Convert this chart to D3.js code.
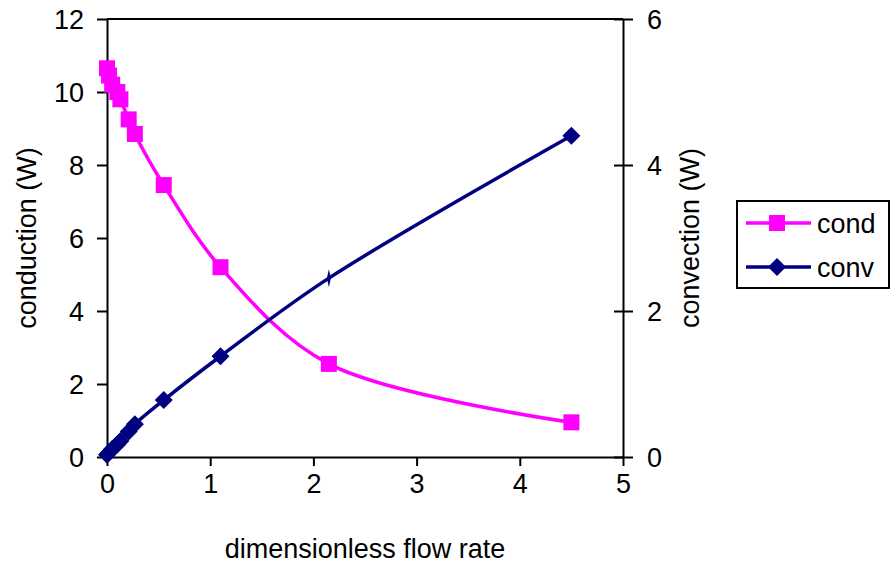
<!DOCTYPE html>
<html>
<head>
<meta charset="utf-8">
<script src="https://cdn.jsdelivr.net/npm/d3@7"></script>
<style>
  html, body { margin: 0; padding: 0; background: #fff; }
  svg text { font-family: "Liberation Sans", Arial, sans-serif; fill: #000; }
</style>
</head>
<body>
<svg id="chart" width="891" height="567"></svg>
<script>
// ---- data ----
const flowRate   = [0, 0.02, 0.05, 0.1, 0.13, 0.21, 0.27, 0.55, 1.1, 2.15, 4.5];
const conduction = [10.65, 10.45, 10.2, 10.0, 9.8, 9.25, 8.85, 7.45, 5.2, 2.55, 0.95];
const convection = [0.03, 0.06, 0.11, 0.17, 0.22, 0.35, 0.45, 0.78, 1.38, 2.45, 4.4];
const xTicks  = [0, 1, 2, 3, 4, 5];
const yLTicks = [0, 2, 4, 6, 8, 10, 12];
const yRTicks = [0, 2, 4, 6];
const seriesNames = ["cond", "conv"];
const xTitle = "dimensionless flow rate";
const yLTitle = "conduction (W)";
const yRTitle = "convection (W)";

// ---- layout ----
const L = 107, R = 623, T = 19, B = 457;
const FS = 27;
const magenta = "#FF00FF", navy = "#000080";

const svg = d3.select("#chart");
const x  = d3.scaleLinear().domain([0, 5]).range([L, R]);
const yL = d3.scaleLinear().domain([0, 12]).range([B, T]);
const yR = d3.scaleLinear().domain([0, 6]).range([B, T]);

// top border of plot area
svg.append("line").attr("x1", L).attr("x2", R).attr("y1", T).attr("y2", T)
  .attr("stroke", "#000").attr("stroke-width", 2);

// axes
const styleAxis = (g) => {
  g.select(".domain").attr("stroke", "#000").attr("stroke-width", 2);
  g.selectAll(".tick line").attr("stroke", "#000").attr("stroke-width", 2);
  g.selectAll(".tick text").style("font-size", FS + "px").attr("fill", "#000");
};

svg.append("g").attr("transform", `translate(0,${B})`)
  .call(d3.axisBottom(x).tickValues(xTicks).tickFormat(d3.format("d")).tickSizeOuter(0).tickSizeInner(9).tickPadding(8))
  .call(styleAxis);

svg.append("g").attr("transform", `translate(${L},0)`)
  .call(d3.axisLeft(yL).tickValues(yLTicks).tickFormat(d3.format("d")).tickSizeOuter(0).tickSizeInner(10).tickPadding(13))
  .call(styleAxis)
  .call(g => g.selectAll(".tick text").attr("dy", "0.36em"));

const gR = svg.append("g").attr("transform", `translate(${R},0)`)
  .call(d3.axisRight(yR).tickValues(yRTicks).tickFormat(d3.format("d")).tickSizeOuter(0).tickSizeInner(10).tickPadding(14))
  .call(styleAxis)
  .call(g => g.selectAll(".tick text").attr("dy", "0.36em"));
// right ticks cross the axis
gR.selectAll(".tick line").attr("x1", -9).attr("x2", 10);

// axis titles
svg.append("text").attr("x", (L + R) / 2).attr("y", 558).attr("text-anchor", "middle")
  .style("font-size", FS + "px").text(xTitle);
svg.append("text").attr("transform", `translate(36,${(T + B) / 2}) rotate(-90)`)
  .attr("text-anchor", "middle").style("font-size", FS + "px").text(yLTitle);
svg.append("text").attr("transform", `translate(699,${(T + B) / 2}) rotate(-90)`)
  .attr("text-anchor", "middle").style("font-size", FS + "px").text(yRTitle);

// series
const idx = d3.range(flowRate.length);
const lineCond = d3.line().x(i => x(flowRate[i])).y(i => yL(conduction[i])).curve(d3.curveCatmullRom.alpha(0.5));
const lineConv = d3.line().x(i => x(flowRate[i])).y(i => yR(convection[i])).curve(d3.curveCatmullRom.alpha(0.5));

svg.append("path").attr("d", lineCond(idx)).attr("fill", "none").attr("stroke", magenta).attr("stroke-width", 3.5);
svg.append("path").attr("d", lineConv(idx)).attr("fill", "none").attr("stroke", navy).attr("stroke-width", 3.5);

const sq = 16;
svg.append("g").selectAll("rect").data(idx).join("rect")
  .attr("x", i => x(flowRate[i]) - sq / 2).attr("y", i => yL(conduction[i]) - sq / 2)
  .attr("width", sq).attr("height", sq).attr("fill", magenta);

const diamond = (cx, cy, w, h) => `M${cx},${cy - h}L${cx + w},${cy}L${cx},${cy + h}L${cx - w},${cy}Z`;
svg.append("g").selectAll("path").data(idx).join("path")
  .attr("d", i => {
    const narrow = i === 9;
    return diamond(x(flowRate[i]), yR(convection[i]), narrow ? 2 : 9, 9);
  })
  .attr("fill", navy);

// legend
const lg = svg.append("g");
lg.append("rect").attr("x", 737).attr("y", 201).attr("width", 152).attr("height", 87)
  .attr("fill", "#fff").attr("stroke", "#000").attr("stroke-width", 2);
const rows = [223, 267];
seriesNames.forEach((name, k) => {
  const col = k === 0 ? magenta : navy;
  const yy = rows[k];
  lg.append("line").attr("x1", 746).attr("x2", 811).attr("y1", yy).attr("y2", yy)
    .attr("stroke", col).attr("stroke-width", 3.5);
  if (k === 0) {
    lg.append("rect").attr("x", 777 - sq / 2).attr("y", yy - sq / 2).attr("width", sq).attr("height", sq).attr("fill", col);
  } else {
    lg.append("path").attr("d", diamond(777, yy, 9, 9)).attr("fill", col);
  }
  lg.append("text").attr("x", 817).attr("y", yy + 10).style("font-size", FS + "px").text(name);
});
</script>
</body>
</html>
